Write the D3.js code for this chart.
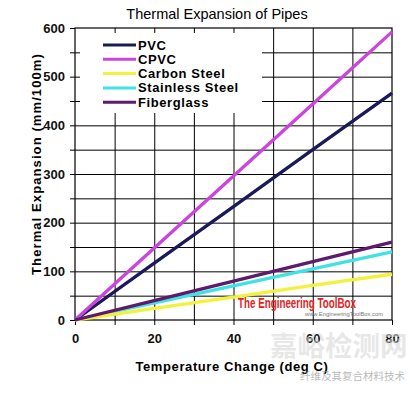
<!DOCTYPE html>
<html>
<head>
<meta charset="utf-8">
<script src="https://cdn.jsdelivr.net/npm/d3@7"></script>
<style>
  body { margin: 0; background: #fff; }
  svg { display: block; font-family: "Liberation Sans", Arial, sans-serif; }
</style>
</head>
<body>
<div id="chartid"></div>
<script>
"use strict"

// temperature change (deg C)
var temps = [0, 20, 40, 60, 80];
// thermal expansion (mm/100m)
var pvc = [0, 117, 233, 350, 466];
var cpvc = [0, 148, 296, 444, 592];
var carbonSteel = [0, 24, 47, 71, 94];
var stainlessSteel = [0, 35, 70, 105, 140];
var fiberglass = [0, 40, 80, 120, 160];

var seriesNames = ["PVC", "CPVC", "Carbon Steel", "Stainless Steel", "Fiberglass"];
var seriesColors = ["#1a1a58", "#cc44dd", "#f2f23c", "#3fe3e3", "#5e1a6c"];
var xTicks = [0, 20, 40, 60, 80];
var yTicks = [0, 100, 200, 300, 400, 500, 600];

var series = [pvc, cpvc, carbonSteel, stainlessSteel, fiberglass];

function createChart(){
  var svg = d3.select("#chartid").append("svg")
    .attr("width", 420)
    .attr("height", 394);

  var margin = { top: 28, left: 75 },
    width = 317,
    height = 292;

  var x = d3.scaleLinear().domain([0, 80]).range([0, width]);
  var y = d3.scaleLinear().domain([0, 600]).range([height, 0]);

  var g = svg.append("g")
    .attr("transform", "translate(" + margin.left + "," + margin.top + ")");

  // grid lines
  g.append("g")
    .attr("class", "grid")
    .call(d3.axisLeft(y).tickValues(d3.range(50, 600, 50)).tickSize(-width).tickFormat(""))
    .call(function(s){ s.select(".domain").remove(); });
  g.append("g")
    .attr("class", "grid")
    .call(d3.axisBottom(x).tickValues(d3.range(10, 80, 10)).tickSize(height).tickFormat(""))
    .call(function(s){ s.select(".domain").remove(); });
  g.selectAll(".grid line").attr("stroke", "#000").attr("stroke-width", 1);

  // white legend box hides the grid behind it
  g.append("rect")
    .attr("x", 5).attr("y", 5)
    .attr("width", 182).attr("height", 80)
    .attr("fill", "#fff");

  // plot frame
  g.append("rect")
    .attr("width", width).attr("height", height)
    .attr("fill", "none").attr("stroke", "#000").attr("stroke-width", 1.2);

  // axes
  var yAxis = g.append("g")
    .call(d3.axisLeft(y).tickValues(d3.range(0, 650, 50)).tickSize(5)
      .tickFormat(function(d){ return yTicks.indexOf(d) >= 0 ? d : ""; }));
  var xAxis = g.append("g")
    .attr("transform", "translate(0," + height + ")")
    .call(d3.axisBottom(x).tickValues(d3.range(0, 90, 10)).tickSize(5)
      .tickFormat(function(d){ return xTicks.indexOf(d) >= 0 ? d : ""; }));
  [yAxis, xAxis].forEach(function(a){
    a.select(".domain").remove();
    a.selectAll("line").attr("stroke", "#000");
    a.selectAll("text")
      .attr("font-family", "Liberation Sans, Arial, sans-serif")
      .attr("font-size", 13)
      .attr("font-weight", "bold")
      .attr("fill", "#111");
  });
  yAxis.selectAll("text").attr("x", -10);
  xAxis.selectAll("text").attr("y", 14);

  // lines
  var line = d3.line()
    .x(function(d, i){ return x(temps[i]); })
    .y(function(d){ return y(d); });

  var order = [3, 2, 0, 1, 4];
  order.forEach(function(k){
    g.append("path")
      .datum(series[k])
      .attr("fill", "none")
      .attr("stroke", seriesColors[k])
      .attr("stroke-width", 3.3)
      .attr("d", line);
  });

  // legend
  var legend = g.append("g").attr("transform", "translate(28,17)");
  seriesNames.forEach(function(name, i){
    var row = legend.append("g").attr("transform", "translate(0," + (i * 14.3) + ")");
    row.append("line")
      .attr("x1", 0).attr("x2", 33)
      .attr("stroke", seriesColors[i]).attr("stroke-width", 3);
    row.append("text")
      .attr("x", 35).attr("y", 4.5)
      .attr("font-size", 13).attr("font-weight", "bold")
      .attr("letter-spacing", 0.6)
      .text(name);
  });

  // watermark
  svg.append("text")
    .attr("x", 238).attr("y", 308)
    .attr("font-family", "Liberation Sans Narrow, Arial Narrow, sans-serif")
    .attr("font-size", 15).attr("font-weight", "bold")
    .attr("fill", "#e02424")
    .attr("textLength", 118).attr("lengthAdjust", "spacingAndGlyphs")
    .text("The Engineering ToolBox");
  svg.append("text")
    .attr("x", 305).attr("y", 316)
    .attr("font-size", 5).attr("fill", "#777")
    .attr("textLength", 78).attr("lengthAdjust", "spacingAndGlyphs")
    .text("www.EngineeringToolBox.com");

  // titles
  svg.append("text")
    .attr("x", 217).attr("y", 19)
    .attr("text-anchor", "middle")
    .attr("font-size", 14.5)
    .text("Thermal Expansion of Pipes");
  svg.append("text")
    .attr("x", 232).attr("y", 371)
    .attr("text-anchor", "middle")
    .attr("font-size", 13).attr("font-weight", "bold")
    .attr("letter-spacing", 0.6)
    .text("Temperature Change (deg C)");
  svg.append("text")
    .attr("transform", "translate(41,164) rotate(-90)")
    .attr("text-anchor", "middle")
    .attr("font-size", 13).attr("font-weight", "bold")
    .attr("letter-spacing", 1.1)
    .text("Thermal Expansion (mm/100m)");

  // faded source marks at the bottom right
  svg.append("text")
    .attr("x", 270).attr("y", 356)
    .attr("font-family", "Noto Sans CJK SC, sans-serif")
    .attr("font-size", 27.5).attr("font-weight", "bold")
    .attr("fill", "#d8d8d8").attr("fill-opacity", 0.6)
    .text("嘉峪检测网");
  svg.append("text")
    .attr("x", 300).attr("y", 380)
    .attr("font-family", "Noto Sans CJK SC, sans-serif")
    .attr("font-size", 10.5)
    .attr("fill", "#999").attr("fill-opacity", 0.7)
    .text("纤维及其复合材料技术");
}

createChart();
</script>
</body>
</html>
